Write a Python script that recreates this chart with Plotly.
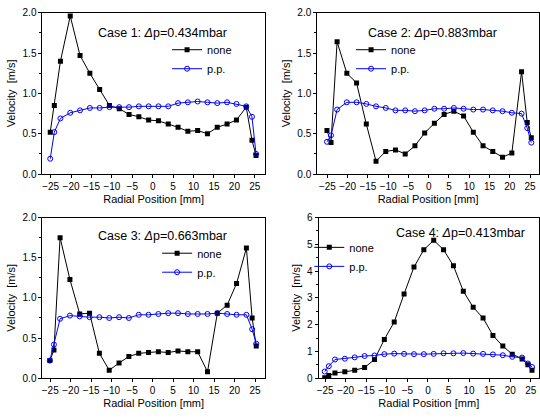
import plotly.graph_objects as go

# radial positions [mm]
x_pos = [-25.1, -24.1, -22.6, -20.2, -17.8, -15.4, -13.0, -10.6, -8.2, -5.8, -3.4, -1.0,
         1.4, 3.8, 6.2, 8.6, 11.0, 13.4, 15.8, 18.2, 20.5, 22.9, 24.3, 25.3]

case1_none = [0.52, 0.85, 1.40, 1.96, 1.47, 1.25, 1.05, 0.85, 0.81, 0.74, 0.71, 0.67,
              0.66, 0.62, 0.58, 0.53, 0.54, 0.50, 0.58, 0.62, 0.67, 0.83, 0.42, 0.23]
case1_pp = [0.19, 0.52, 0.69, 0.76, 0.79, 0.82, 0.82, 0.83, 0.83, 0.83, 0.84, 0.84,
            0.84, 0.84, 0.88, 0.89, 0.90, 0.89, 0.88, 0.89, 0.87, 0.84, 0.71, 0.25]

case2_none = [0.54, 0.39, 1.64, 1.25, 1.13, 0.62, 0.16, 0.28, 0.30, 0.25, 0.35, 0.51,
              0.63, 0.74, 0.78, 0.72, 0.52, 0.35, 0.28, 0.21, 0.26, 1.27, 0.64, 0.45]
case2_pp = [0.40, 0.48, 0.80, 0.89, 0.89, 0.87, 0.84, 0.82, 0.79, 0.79, 0.78, 0.79,
            0.81, 0.81, 0.82, 0.81, 0.80, 0.80, 0.79, 0.78, 0.76, 0.75, 0.57, 0.39]

case3_none = [0.22, 0.35, 1.75, 1.23, 0.80, 0.81, 0.31, 0.10, 0.19, 0.27, 0.31, 0.32,
              0.33, 0.32, 0.34, 0.33, 0.33, 0.08, 0.81, 0.91, 1.18, 1.62, 0.75, 0.40]
case3_pp = [0.22, 0.42, 0.74, 0.78, 0.77, 0.76, 0.76, 0.75, 0.76, 0.75, 0.79, 0.79,
            0.80, 0.81, 0.81, 0.80, 0.80, 0.80, 0.81, 0.80, 0.79, 0.79, 0.61, 0.43]

case4_none = [0.02, 0.10, 0.20, 0.24, 0.30, 0.40, 0.70, 1.45, 2.10, 3.15, 4.15, 4.80,
              5.15, 4.80, 4.20, 3.25, 2.65, 2.25, 1.60, 1.20, 0.90, 0.72, 0.50, 0.30]
case4_pp = [0.25, 0.45, 0.70, 0.73, 0.78, 0.83, 0.85, 0.90, 0.92, 0.91, 0.90, 0.90,
            0.91, 0.93, 0.93, 0.94, 0.92, 0.91, 0.89, 0.86, 0.80, 0.77, 0.55, 0.42]

titles = ["Case 1: <i>Δ</i>p=0.434mbar", "Case 2: <i>Δ</i>p=0.883mbar",
          "Case 3: <i>Δ</i>p=0.663mbar", "Case 4: <i>Δ</i>p=0.413mbar"]
series_names = ["none", "p.p."]
x_ticks = [-25, -20, -15, -10, -5, 0, 5, 10, 15, 20, 25]

W, H = 540, 418
FONT = "Arial, Liberation Sans, sans-serif"

def px_x(p):
    return p / W

def px_y(p):
    return 1 - p / H

panels = [
    dict(data=(case1_none, case1_pp), xd=(40.7, 264.3), yd=(7, 172.6), xr=[-27.0, 27.45],
         yr=[0, 2.0], dt=0.5, fmt=".1f", tpos=(161, 28), lpos=(166, 30)),
    dict(data=(case2_none, case2_pp), xd=(317.0, 540), yd=(7, 172.6), xr=[-27.5, 27.2],
         yr=[0, 2.0], dt=0.5, fmt=".1f", tpos=(433, 28), lpos=(351, 30)),
    dict(data=(case3_none, case3_pp), xd=(40.7, 264.3), yd=(217.3, 382.3), xr=[-26.9, 27.4],
         yr=[0, 2.0], dt=0.5, fmt=".1f", tpos=(161, 236), lpos=(156, 239)),
    dict(data=(case4_none, case4_pp), xd=(318.3, 540), yd=(217.3, 382.3), xr=[-26.6, 27.0],
         yr=[0, 6], dt=1, fmt="d", tpos=(461, 233), lpos=(309, 233)),
]

fig = go.Figure()
layout = dict(
    width=W, height=H, margin=dict(l=0, r=0, t=0, b=0),
    paper_bgcolor="white", plot_bgcolor="white",
    font=dict(family=FONT, size=10, color="black"),
    showlegend=True,
)
annotations = []
for i, p in enumerate(panels, start=1):
    sfx = "" if i == 1 else str(i)
    lg = "legend" if i == 1 else f"legend{i}"
    none_y, pp_y = p["data"]
    fig.add_trace(go.Scatter(
        x=x_pos, y=none_y, name=series_names[0], mode="lines+markers",
        line=dict(color="black", width=1),
        marker=dict(symbol="square", size=5, color="black"),
        xaxis=f"x{sfx}", yaxis=f"y{sfx}", legend=lg))
    fig.add_trace(go.Scatter(
        x=x_pos, y=pp_y, name=series_names[1], mode="lines+markers",
        line=dict(color="#0000ff", width=1),
        marker=dict(symbol="circle-open", size=5, color="#0000ff", line=dict(width=1)),
        xaxis=f"x{sfx}", yaxis=f"y{sfx}", legend=lg))
    layout[f"xaxis{sfx}"] = dict(
        domain=[px_x(p["xd"][0]), px_x(p["xd"][1])], range=p["xr"], anchor=f"y{sfx}",
        tickvals=x_ticks, ticks="outside", ticklen=3, tickwidth=1, tickcolor="black",
        showline=True, linecolor="black", linewidth=1, mirror=True, showgrid=False,
        zeroline=False, tickfont=dict(size=10),
        title=dict(text="Radial Position [mm]", font=dict(size=11), standoff=4),
    )
    layout[f"yaxis{sfx}"] = dict(
        domain=[px_y(p["yd"][1]), px_y(p["yd"][0])], range=p["yr"], anchor=f"x{sfx}",
        dtick=p["dt"], tick0=0, tickformat=p["fmt"], ticks="outside", ticklen=3,
        tickwidth=1, tickcolor="black",
        minor=dict(ticks="outside", ticklen=2, tickcolor="black", dtick=p["dt"] / 2),
        showline=True, linecolor="black", linewidth=1, mirror=True, showgrid=False,
        zeroline=False, tickfont=dict(size=10),
        title=dict(text="Velocity  [m/s]", font=dict(size=11), standoff=4),
    )
    layout[lg] = dict(
        x=px_x(p["lpos"][0]), y=px_y(p["lpos"][1]), xanchor="left", yanchor="top",
        bgcolor="rgba(0,0,0,0)", font=dict(size=11), tracegroupgap=0,
        itemwidth=30, borderwidth=0,
    )
    annotations.append(dict(
        text=titles[i - 1], xref="paper", yref="paper",
        x=px_x(p["tpos"][0]), y=px_y(p["tpos"][1]), xanchor="center", yanchor="middle",
        showarrow=False, font=dict(size=12.5)))

layout["annotations"] = annotations
fig.update_layout(**layout)
fig.write_html("out.html")
